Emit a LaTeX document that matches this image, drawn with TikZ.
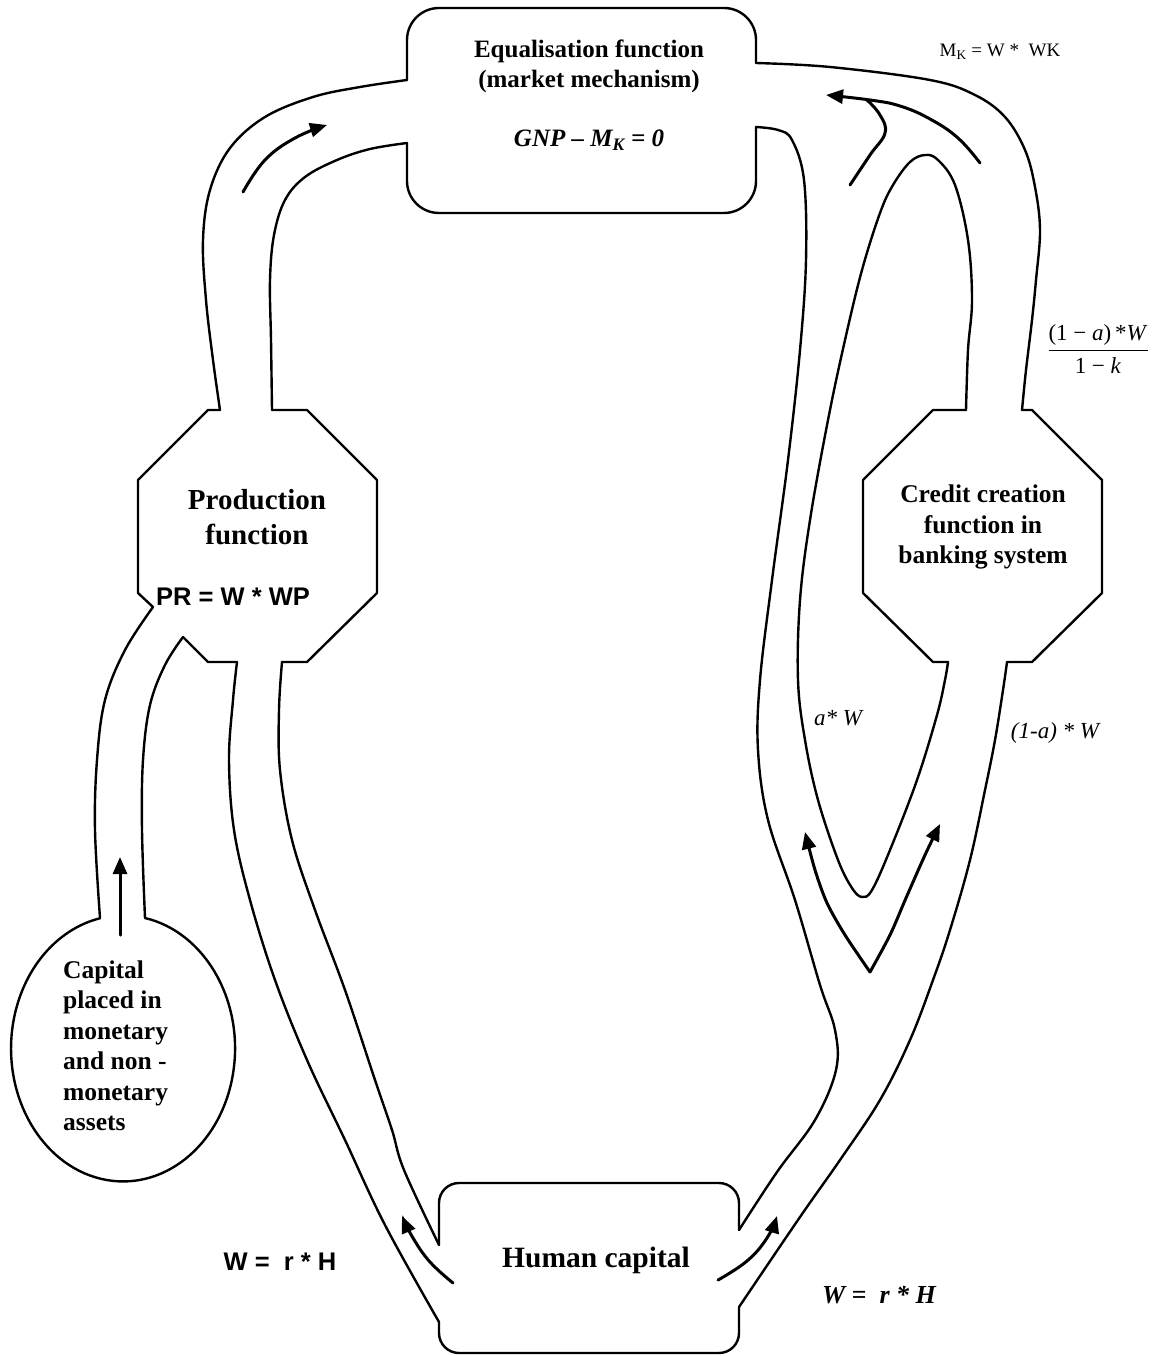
\documentclass[tikz,border=0pt]{standalone}
\usepackage{fontspec}
\setmainfont{Liberation Serif}
\setsansfont{Liberation Sans}
\usetikzlibrary{arrows.meta}
\newcommand\fsz[2]{\fontsize{#1}{#2}\selectfont}
\tikzset{
  tube/.style={line width=2.4pt, line cap=round, line join=round},
  flow/.style={line width=3pt, line cap=round, -{Triangle[length=17pt,width=14pt]}},
  flowplain/.style={line width=3pt, line cap=round},
  lbl/.style={inner sep=0pt, align=center},
}
\begin{document}
\begin{tikzpicture}[x=1pt,y=-1pt]
\useasboundingbox (0,0) rectangle (1160,1356);
\fill[white] (0,0) rectangle (1160,1356);

% ---------- Equalisation box ----------
\draw[tube, rounded corners=32pt] (407,80) -- (407,8) -- (756,8) -- (756,63);
\draw[tube, rounded corners=32pt] (756,127) -- (756,213) -- (407,213) -- (407,143);

% left tube (production -> equalisation)
\draw[tube] plot[smooth, tension=0.6] coordinates {(407,80) (360,87) (313,97) (265,117) (230,148) (210,190) (203,240) (206,300) (213,360) (220,410)};
\draw[tube] plot[smooth, tension=0.6] coordinates {(407,143) (370,149) (337,160) (305,177) (285,200) (274,235) (270,280) (271,340) (272,410)};

% ---------- Production octagon ----------
\draw[tube] (220,410) -- (208,410) -- (138,480) -- (138,593) -- (153,607);
\draw[tube] (183,637) -- (208,662) -- (237,662);
\draw[tube] (282,662) -- (307,662) -- (377,593) -- (377,480) -- (307,410) -- (272,410);

% capital tube
\draw[tube] plot[smooth, tension=0.6] coordinates {(153,607) (125,650) (105,700) (97,760) (95,830) (100,918)};
\draw[tube] plot[smooth, tension=0.6] coordinates {(183,637) (165,665) (150,705) (143,760) (142,830) (145,918)};
% capital ellipse
\draw[tube] (145,918) arc[start angle=78.7, end angle=-258.1, x radius=112pt, y radius=133pt];

% production -> human capital tube
\draw[tube] plot[smooth, tension=0.6] coordinates {(237,662) (233,700) (229,760) (234,830) (250,900) (275,980) (307,1060) (345,1140) (385,1225) (439,1322)};
\draw[tube] plot[smooth, tension=0.6] coordinates {(282,662) (279,710) (280,770) (292,840) (315,910) (345,990) (375,1080) (392,1130) (404,1170) (439,1245)};

% ---------- Human capital box ----------
\draw[tube, rounded corners=20pt] (439,1245) -- (439,1183) -- (739,1183) -- (739,1230);
\draw[tube, rounded corners=20pt] (439,1322) -- (439,1353) -- (739,1353) -- (739,1307);

% ---------- right system ----------
% line A
\draw[tube] plot[smooth, tension=0.6] coordinates {(739,1230) (777,1172) (815,1120) (836,1070) (835,1030) (820,985) (795,900) (768,820) (758,750) (760,680) (772,580) (788,460) (800,350) (806,260) (804,180) (792,140) (778,130) (756,127)};
% U loop
\draw[tube] plot[smooth, tension=0.6] coordinates {(966,410) (968,350) (972,300) (968,240) (955,185) (938,160) (925,155) (910,162) (893,185) (880,213) (862,270) (845,340) (828,420) (810,520) (800,600) (798,680) (805,740) (818,800) (838,860) (852,888) (862,897) (872,890) (890,850) (917,780) (937,715) (945,680) (948,662)};
% line C (outer upper)
\draw[tube] plot[smooth, tension=0.6] coordinates {(756,63) (830,67) (930,80) (975,95) (1005,117) (1025,150) (1035,187) (1040,230) (1036,280) (1032,320) (1026,370) (1022,410)};
% credit octagon
\draw[tube] (966,410) -- (933,410) -- (863,480) -- (863,593) -- (933,662) -- (948,662);
\draw[tube] (1007,662) -- (1032,662) -- (1102,593) -- (1102,480) -- (1032,410) -- (1022,410);
% line C' (outer lower)
\draw[tube] plot[smooth, tension=0.6] coordinates {(1007,662) (1003,690) (995,740) (985,790) (970,860) (950,930) (933,980) (910,1040) (880,1100) (840,1160) (800,1217) (739,1307)};

% ---------- flow arrows ----------
\draw[flow] plot[smooth, tension=0.7] coordinates {(243,192) (265,160) (295,138) (327,125)};
\draw[flow] plot[smooth, tension=0.7] coordinates {(980,163) (958,138) (930,119) (900,106) (870,100) (826,95)};
\draw[flowplain] plot[smooth, tension=0.7] coordinates {(850,185) (870,155) (885,133) (880,115) (867,100)};
\draw[flow] (120,935) -- (120,857);
\draw[flow] plot[smooth, tension=0.7] coordinates {(453,1283) (430,1262) (413,1238) (402,1216)};
\draw[flow] plot[smooth, tension=0.7] coordinates {(718,1280) (747,1261) (767,1238) (777,1216)};
\draw[flow] plot[smooth, tension=0.5] coordinates {(870,972) (845,935) (827,903) (815,870) (805,832)};
\draw[flow] plot[smooth, tension=0.5] coordinates {(870,972) (890,935) (906,898) (925,855) (940,824)};

% ---------- labels ----------
\node[lbl, font=\fsz{25}{30}\bfseries] (eq) at (589,66) {Equalisation function\\(market mechanism)};
\node[lbl, font=\fsz{25}{30}\bfseries\itshape] (gnp) at (589,140) {GNP – M\textsubscript{K} = 0};
\node[lbl, font=\fsz{19}{22}] (mk) at (1000,52) {M\textsubscript{K} = W *~ WK};
\node[lbl, font=\fsz{29}{35}\bfseries] (prod) at (257,517) {Production\\function};
\node[lbl, font=\fsz{25.5}{28}\sffamily\bfseries] (pr) at (233,597) {PR = W * WP};
\node[lbl, font=\fsz{25.5}{30.5}\bfseries] (credit) at (983,527) {Credit creation\\function in\\banking system};
\node[lbl, font=\fsz{25.5}{30.5}\bfseries, align=left, anchor=west] (cap) at (63,1046) {Capital\\placed in\\monetary\\and non -\\monetary\\assets};
\node[lbl, font=\fsz{23}{28}\itshape] (aw) at (838,718) {a* W};
\node[lbl, font=\fsz{23}{28}\itshape] (law) at (1055,733) {(1-a) * W};
\node[lbl, font=\fsz{23}{27}] (frac) at (1098,349) {$\displaystyle\frac{\mbox{(1 − \textit{a})\,*\textit{W}}}{\mbox{1 − \textit{k}}}$};
\node[lbl, font=\fsz{29.5}{34}\bfseries] (hc) at (596,1260) {Human capital};
\node[lbl, font=\fsz{25.5}{30}\sffamily\bfseries] (wl) at (280,1262) {W =~~r * H};
\node[lbl, font=\fsz{26}{30}\bfseries\itshape] (wr) at (879,1295) {W = ~r * H};
\end{tikzpicture}
\end{document}
